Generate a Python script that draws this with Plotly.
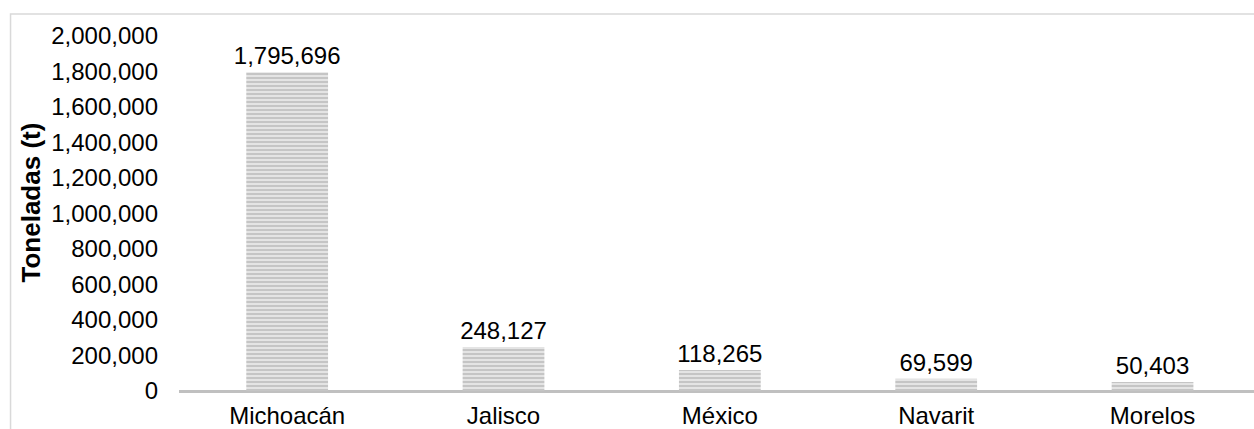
import plotly.graph_objects as go

categories = ["Michoacán", "Jalisco", "México", "Navarit", "Morelos"]
toneladas = [1795696, 248127, 118265, 69599, 50403]
y_ticks = [0, 200000, 400000, 600000, 800000, 1000000, 1200000, 1400000, 1600000, 1800000, 2000000]

FONT = "Liberation Sans, Arial, sans-serif"
FS = 24

fig = go.Figure(go.Bar(
    x=categories,
    y=toneladas,
    width=0.378,
    marker=dict(
        color="#e2e2e2",
        line=dict(width=0),
        pattern=dict(shape="-", fgcolor="#a0a0a0", bgcolor="#e4e4e4", size=4, solidity=0.45),
    ),
    texttemplate="%{y:,}",
    textposition="outside",
    constraintext="none",
    cliponaxis=False,
    textfont=dict(family=FONT, size=FS, color="#000000"),
))

fig.update_layout(
    width=1254, height=429,
    margin=dict(l=179.4, r=0, t=35.5, b=37.7, autoexpand=False),
    paper_bgcolor="white", plot_bgcolor="white",
    showlegend=False,
    font=dict(family=FONT, size=FS, color="#000000"),
    xaxis=dict(
        range=[-0.5, 4.469], showgrid=False, zeroline=False,
        showline=False, ticks="", automargin=False, ticklabelstandoff=8,
        tickfont=dict(family=FONT, size=FS, color="#000000"),
    ),
    yaxis=dict(
        range=[0, 2000000], showgrid=False, zeroline=True,
        zerolinecolor="#c0c0c0", zerolinewidth=3,
        showline=False, ticks="", tickvals=y_ticks, tickformat=",",
        ticklabelstandoff=20, automargin=False,
        tickfont=dict(family=FONT, size=FS, color="#000000"),
    ),
    annotations=[dict(
        text="<b>Toneladas (t)</b>", textangle=-90,
        xref="paper", yref="paper", x=-0.138, y=0.53,
        xanchor="center", yanchor="middle", showarrow=False,
        font=dict(family=FONT, size=26, color="#000000"),
    )],
    shapes=[dict(
        type="rect", xref="paper", yref="paper",
        x0=-0.1567, x1=1.05, y0=-0.3, y1=1.0618,
        line=dict(color="#d9d9d9", width=1.5), fillcolor="rgba(0,0,0,0)", layer="below",
    )],
)

fig.write_html("out.html")
